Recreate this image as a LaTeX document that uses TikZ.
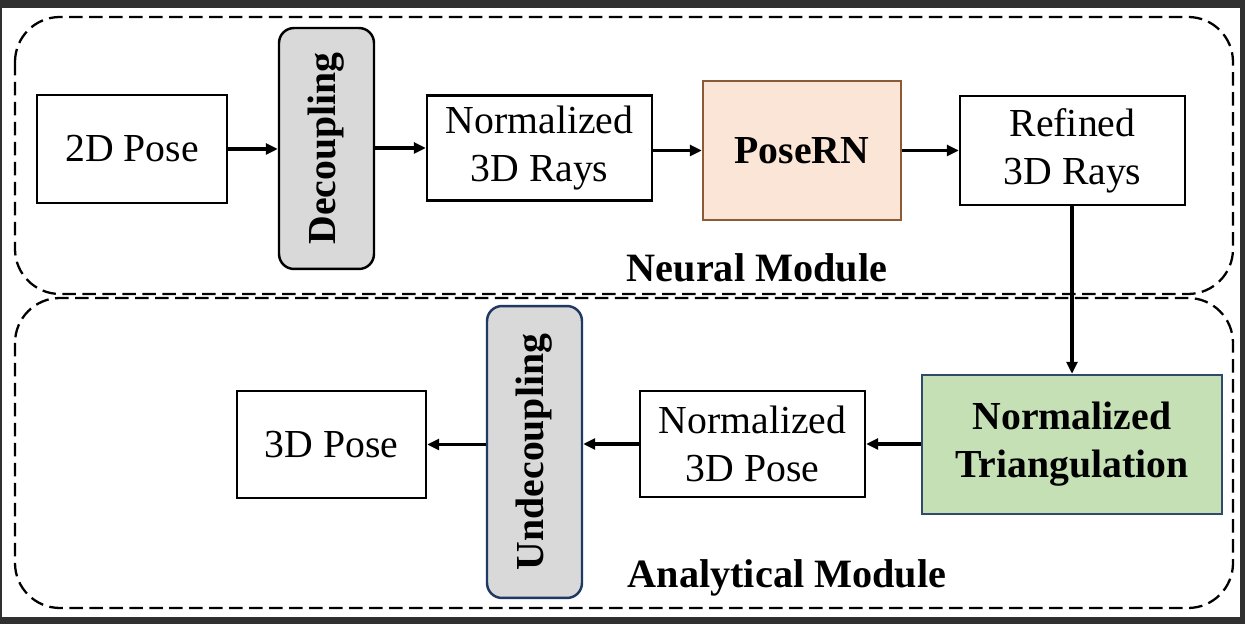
\documentclass[tikz,border=0pt]{standalone}
\usepackage{fontspec}
\setmainfont{Liberation Serif}
\usepackage{graphicx}
\usetikzlibrary{arrows.meta}

\definecolor{framegray}{HTML}{303030}
\definecolor{boxgray}{HTML}{D9D9D9}
\definecolor{peach}{HTML}{FBE5D6}
\definecolor{peachline}{HTML}{8C5A34}
\definecolor{sage}{HTML}{C5E0B4}
\definecolor{sageline}{HTML}{2F4B6B}
\definecolor{navy}{HTML}{1F3864}

\tikzset{
    >={Triangle[length=0.24cm,width=0.22cm]},
    box/.style={draw, line width=1.4pt, fill=white, align=center, inner sep=0pt,
        font=\fontsize{22.6}{27.2}\selectfont},
    bar/.style={box, rounded corners=0.3cm, fill=boxgray},
    module/.style={draw, dash pattern=on 0.27cm off 0.13cm, line width=1.3pt, rounded corners=0.9cm},
    flow/.style={->, line width=2.2pt},
    title/.style={font=\fontsize{22.9}{27}\selectfont\bfseries}
}

\begin{document}
\begin{tikzpicture}[x=0.02cm, y=-0.02cm]
        \useasboundingbox (0, 0) rectangle (1245, 624);
        \fill[framegray] (0, 0) rectangle (1245, 624);
        \fill[white] (2, 8) rectangle (1240, 617);

        % the two modules
        \draw[module] (15, 17) rectangle (1233, 294);
        \draw[module] (15, 298) rectangle (1233, 608);
        \node[title] (neural) at (757, 268) {Neural Module};
        \node[title] (analytical) at (787, 578) {Analytical Module};

        % neural row
        \node[box, minimum width=3.8cm, minimum height=2.16cm] (pose2d) at (132, 149) {2D Pose};
        \node[bar, minimum width=1.9cm, minimum height=4.82cm] (decoup) at (326.5, 148.5) {\rotatebox{90}{\bfseries Decoupling}};
        \node[box, minimum width=4.5cm, minimum height=2.1cm] (rays) at (539.5, 148) {Normalized\\3D Rays};
        \node[box, draw=peachline, fill=peach, minimum width=3.96cm, minimum height=2.78cm] (posern) at (802, 150.5) {\bfseries PoseRN};
        \node[box, minimum width=4.5cm, minimum height=2.18cm] (refined) at (1072.5, 150.5) {Refined\\3D Rays};

        % analytical row
        \node[box, draw=sageline, fill=sage, minimum width=6cm, minimum height=2.78cm] (triang) at (1072, 444.5) {\bfseries Normalized\\\bfseries Triangulation};
        \node[box, minimum width=4.5cm, minimum height=2.12cm] (pose3dn) at (752.5, 444) {Normalized\\3D Pose};
        \node[bar, draw=navy, minimum width=1.9cm, minimum height=5.84cm] (undecoup) at (534.5, 452) {\rotatebox{90}{\bfseries Undecoupling}};
        \node[box, minimum width=3.78cm, minimum height=2.14cm] (pose3d) at (331.5, 444.5) {3D Pose};

        \draw[flow] (pose2d.east) -- (pose2d.east -| decoup.west);
        \draw[flow] (rays.west -| decoup.east) -- (rays.west);
        \draw[flow] (rays.east |- posern.west) -- (posern.west);
        \draw[flow] (posern.east) -- (posern.east -| refined.west);
        \draw[flow] (refined.south -| triang.north) -- (triang.north);
        \draw[flow] (triang.west |- pose3dn.east) -- (pose3dn.east);
        \draw[flow] (pose3dn.west) -- (pose3dn.west -| undecoup.east);
        \draw[flow] (pose3d.east -| undecoup.west) -- (pose3d.east);
    \end{tikzpicture}
\end{document}
